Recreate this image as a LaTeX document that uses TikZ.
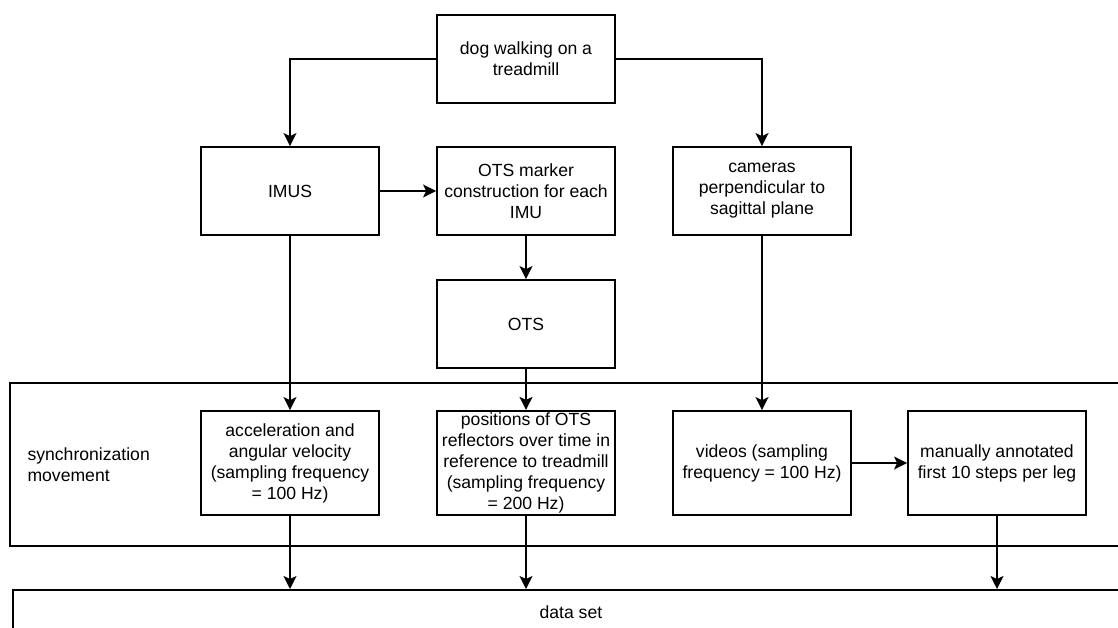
\documentclass[tikz,border=0pt]{standalone}
\usepackage{fontspec}
\setmainfont{Liberation Sans}
\usetikzlibrary{arrows.meta}

\tikzset{
  stage/.style={draw, line width=1.8pt, minimum width=178pt, minimum height=88pt,
    align=center, inner sep=2pt, font=\fontsize{17.6}{21}\selectfont},
  tall/.style={stage, minimum height=104pt},
  frame/.style={draw, line width=1.8pt, anchor=north west, inner sep=0pt},
  flow/.style={line width=1.8pt, -{Stealth[length=13pt,width=13pt,inset=3pt]}}
}

\begin{document}
\begin{tikzpicture}[x=1pt,y=-1pt]
  \useasboundingbox (0,0) rectangle (1118,628);
  \clip (0,0) rectangle (1118,628);

  % frames
  \node[frame, minimum width=1140pt, minimum height=163pt] (sync) at (9,382) {};
  \node[frame, minimum width=1116pt, minimum height=44pt,
        font=\fontsize{17.6}{21}\selectfont] (data) at (12,589) {data set};
  \node[anchor=west, align=left, font=\fontsize{17.6}{21}\selectfont] (synclabel) at (24,464.5)
    {synchronization\\movement};

  % upper part
  \node[stage] (dog) at (526,59) {dog walking on a\\treadmill};
  \node[stage] (imus) at (290,191) {IMUS};
  \node[stage] (marker) at (526,191) {OTS marker\\construction for each\\IMU};
  \node[stage] (cameras) at (762,191) {cameras\\perpendicular to\\sagittal plane};
  \node[stage] (ots) at (526,324) {OTS};

  % inside the synchronization frame
  \node[tall] (accel) at (290,463) {acceleration and\\angular velocity\\(sampling frequency\\= 100 Hz)};
  \node[tall] (positions) at (526,463) {positions of OTS\\reflectors over time in\\reference to treadmill\\(sampling frequency\\= 200 Hz)};
  \node[tall] (videos) at (762,463) {videos (sampling\\frequency = 100 Hz)};
  \node[tall] (manual) at (997,463) {manually annotated\\first 10 steps per leg};

  % connectors
  \draw[flow] (dog.west) -| (imus.north);
  \draw[flow] (dog.east) -| (cameras.north);
  \draw[flow] (imus.east) -- (marker.west);
  \draw[flow] (marker.south) -- (ots.north);
  \draw[flow] (imus.south) -- (accel.north);
  \draw[flow] (ots.south) -- (positions.north);
  \draw[flow] (cameras.south) -- (videos.north);
  \draw[flow] (videos.east) -- (manual.west);
  \draw[flow] (accel.south) -- (accel.south |- data.north);
  \draw[flow] (positions.south) -- (positions.south |- data.north);
  \draw[flow] (manual.south) -- (manual.south |- data.north);
\end{tikzpicture}
\end{document}
